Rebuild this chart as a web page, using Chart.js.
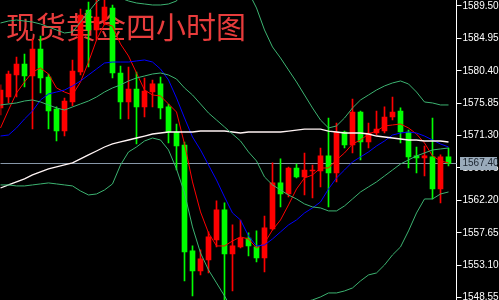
<!DOCTYPE html>
<html>
<head>
<meta charset="utf-8">
<script src="https://cdn.jsdelivr.net/npm/chart.js@4.4.1/dist/chart.umd.min.js"></script>
<style>
html, body { margin: 0; padding: 0; background: #000; }
canvas { display: block; }
</style>
</head>
<body>
<canvas id="myChart" width="499" height="300"></canvas>
<script>
const title = '现货黄金四小时图';
const lastPrice = 1567.40;
const yTicks = [1548.55, 1553.10, 1557.65, 1562.20, 1566.75, 1571.30, 1575.85, 1580.40, 1584.95, 1589.50];

// 4 hour candles, oldest first
const opens = [1575.18, 1576.72, 1579.81, 1581.35, 1579.67, 1583.46, 1579.53, 1575.03, 1571.94, 1576.02,
    1580.23, 1588.94, 1586.13, 1587.53, 1589.22, 1580.09, 1576.02, 1577.84, 1575.32, 1577.42,
    1578.55, 1575.32, 1571.80, 1569.98, 1555.10, 1552.29, 1553.84, 1556.64, 1560.86, 1554.68,
    1555.66, 1556.92, 1555.66, 1554.12, 1558.19, 1564.65, 1563.10, 1566.75, 1565.49, 1566.33,
    1566.33, 1568.44, 1566.05, 1571.80, 1569.98, 1574.61, 1570.40, 1571.66, 1571.94, 1573.91,
    1574.75, 1571.80, 1568.44, 1568.16, 1568.30, 1563.80, 1568.30];
const highs = [1578.41, 1580.37, 1582.34, 1582.76, 1584.86, 1585.29, 1579.95, 1575.32, 1576.58, 1581.92,
    1589.08, 1590.06, 1590.62, 1590.62, 1589.64, 1581.07, 1580.93, 1580.23, 1579.39, 1579.11,
    1579.53, 1575.74, 1572.93, 1570.40, 1555.80, 1555.24, 1557.77, 1562.12, 1561.84, 1558.75,
    1559.45, 1557.63, 1557.91, 1560.01, 1567.46, 1568.02, 1566.89, 1567.31, 1568.86, 1567.17,
    1569.56, 1573.77, 1573.07, 1571.94, 1576.44, 1574.75, 1573.07, 1574.75, 1575.32, 1576.72,
    1575.18, 1572.08, 1569.70, 1569.84, 1573.77, 1568.58, 1569.56];
const lows = [1574.19, 1575.88, 1576.72, 1578.13, 1572.22, 1577.28, 1572.22, 1570.54, 1571.24, 1575.46,
    1579.81, 1580.93, 1584.72, 1586.83, 1579.39, 1573.63, 1573.63, 1570.12, 1573.91, 1575.32,
    1573.63, 1570.26, 1566.47, 1550.89, 1548.78, 1551.73, 1552.01, 1555.66, 1548.10, 1549.48,
    1555.52, 1554.40, 1553.56, 1552.15, 1558.05, 1561.28, 1562.68, 1565.35, 1562.96, 1562.54,
    1564.09, 1561.28, 1564.79, 1569.56, 1568.86, 1567.88, 1569.56, 1571.38, 1571.66, 1573.49,
    1570.26, 1566.75, 1566.05, 1565.63, 1562.40, 1561.84, 1567.03];
const closes = [1577.70, 1579.95, 1581.35, 1579.67, 1583.46, 1579.39, 1574.75, 1571.94, 1576.16, 1580.37,
    1588.23, 1586.13, 1587.95, 1589.36, 1580.09, 1576.02, 1577.84, 1575.32, 1577.56, 1578.55,
    1575.18, 1571.80, 1569.84, 1554.96, 1552.29, 1553.98, 1557.07, 1560.86, 1554.68, 1555.80,
    1556.92, 1555.80, 1554.12, 1558.33, 1564.65, 1563.10, 1566.75, 1565.49, 1566.47, 1566.47,
    1568.44, 1566.05, 1571.80, 1569.98, 1574.61, 1570.40, 1571.66, 1572.22, 1573.91, 1574.61,
    1571.80, 1568.30, 1568.16, 1568.44, 1563.80, 1568.30, 1567.40];

// indicator lines
const ma5 = [1572.37, 1574.89, 1577.28, 1578.83, 1580.23, 1580.79, 1579.95, 1577.99, 1577.42, 1577.00,
    1578.83, 1581.63, 1584.72, 1586.97, 1586.69, 1584.16, 1582.48, 1580.09, 1577.70, 1577.00,
    1576.86, 1575.74, 1574.61, 1570.12, 1564.79, 1560.58, 1557.63, 1555.80, 1555.80, 1556.50,
    1557.07, 1556.78, 1555.52, 1556.22, 1558.05, 1559.45, 1561.56, 1563.80, 1565.35, 1565.77,
    1566.75, 1566.75, 1567.88, 1568.86, 1570.12, 1570.68, 1571.52, 1571.94, 1572.65, 1572.79,
    1572.93, 1572.37, 1571.52, 1570.26, 1568.44, 1567.74, 1567.46];
const ma10 = [1571.24, 1571.38, 1572.37, 1573.63, 1574.75, 1576.30, 1577.14, 1577.42, 1577.70, 1578.27,
    1578.97, 1579.81, 1580.65, 1581.49, 1581.63, 1581.63, 1581.63, 1581.78, 1581.92, 1581.63,
    1580.65, 1579.11, 1576.58, 1573.77, 1571.10, 1569.28, 1567.17, 1565.06, 1562.68, 1560.43,
    1559.45, 1557.21, 1555.80, 1555.94, 1556.78, 1557.77, 1558.75, 1559.45, 1560.43, 1561.14,
    1561.98, 1563.80, 1565.35, 1566.47, 1567.60, 1568.30, 1569.00, 1569.84, 1570.54, 1571.38,
    1571.66, 1571.80, 1571.66, 1571.24, 1570.68, 1570.12, 1569.70];
const ma60 = [1563.94, 1564.37, 1564.79, 1565.21, 1565.77, 1566.19, 1566.61, 1566.89, 1567.17, 1567.46,
    1568.02, 1568.58, 1569.14, 1569.70, 1570.12, 1570.40, 1570.68, 1570.96, 1571.24, 1571.52,
    1571.66, 1571.80, 1571.80, 1571.80, 1571.80, 1571.94, 1571.94, 1571.94, 1571.94, 1571.80,
    1571.66, 1571.80, 1571.80, 1571.80, 1571.80, 1571.80, 1571.94, 1572.08, 1572.22, 1572.22,
    1572.22, 1571.94, 1571.80, 1571.66, 1571.66, 1571.66, 1571.52, 1571.24, 1571.10, 1570.96,
    1570.82, 1570.68, 1570.68, 1570.54, 1570.54, 1570.54, 1570.40];
const bollUpper = [1587.11, 1587.39, 1587.53, 1587.39, 1587.25, 1586.97, 1586.55, 1586.13, 1585.71, 1585.85,
    1587.25, 1588.66, 1590.06, 1590.90, 1590.90, 1590.62, 1590.20, 1589.92, 1589.78, 1589.64,
    1589.64, 1589.78, 1590.20, 1592.45, 1595.68, 1596.66, 1596.80, 1596.94, 1596.80, 1596.24,
    1594.55, 1591.46, 1589.22, 1586.13, 1583.74, 1582.20, 1580.51, 1578.83, 1577.00, 1575.18,
    1573.49, 1572.37, 1572.65, 1573.77, 1575.18, 1576.30, 1577.00, 1577.70, 1578.27, 1578.69,
    1578.97, 1578.55, 1577.42, 1576.02, 1575.88, 1575.60, 1575.60];
const bollMid = [1575.60, 1575.74, 1575.88, 1576.16, 1576.30, 1576.02, 1575.60, 1575.18, 1574.89, 1575.32,
    1575.74, 1576.16, 1576.72, 1577.42, 1577.99, 1578.41, 1578.97, 1579.39, 1579.67, 1579.95,
    1580.09, 1579.81, 1579.25, 1577.99, 1577.00, 1575.74, 1574.47, 1573.49, 1572.51, 1571.52,
    1570.54, 1569.00, 1567.74, 1565.49, 1564.37, 1563.66, 1562.96, 1562.40, 1561.70, 1561.28,
    1561.14, 1560.72, 1560.72, 1561.42, 1562.40, 1563.38, 1564.09, 1564.79, 1565.63, 1566.47,
    1567.31, 1567.88, 1568.44, 1568.86, 1569.28, 1569.42, 1569.56];
const bollLower = [1564.37, 1564.37, 1564.23, 1564.23, 1564.37, 1564.51, 1564.65, 1564.51, 1564.37, 1564.23,
    1563.52, 1562.96, 1563.10, 1563.66, 1564.51, 1567.17, 1569.00, 1569.70, 1570.54, 1570.96,
    1570.68, 1569.28, 1566.61, 1563.24, 1558.47, 1554.82, 1552.43, 1550.61, 1548.78, 1546.82,
    1545.69, 1545.13, 1545.13, 1545.69, 1546.54, 1547.10, 1547.52, 1547.66, 1547.94, 1548.22,
    1548.64, 1549.20, 1549.20, 1549.48, 1549.90, 1550.89, 1551.73, 1552.01, 1553.13, 1554.54,
    1555.66, 1557.91, 1560.43, 1562.40, 1562.40, 1563.10, 1563.38];

// one spare slot on the right so the last candle sits just left of the axis
const labels = Array.from({length: closes.length + 1}, (_, i) => String(i + 1));

const upColor = '#ff0000';
const downColor = '#00ff00';
const candleColors = closes.map((c, i) => c >= opens[i] ? upColor : downColor);

function lineSet(data, color, width){
    return {
        type: 'line',
        data: data,
        borderColor: color,
        borderWidth: width,
        pointRadius: 0,
        tension: 0,
        fill: false,
        order: 1
    };
}

// title, last price line and price tag
const overlay = {
    id: 'overlay',
    beforeDatasetsDraw(chart){
        const ctx = chart.ctx;
        const area = chart.chartArea;
        const y = Math.round(chart.scales.y.getPixelForValue(lastPrice)) + 0.5;
        ctx.save();
        ctx.font = '30px "Noto Sans CJK SC"';
        ctx.fillStyle = '#e83c3c';
        ctx.textBaseline = 'alphabetic';
        ctx.fillText(title, 6, 38);
        ctx.strokeStyle = '#8797a8';
        ctx.lineWidth = 1;
        ctx.beginPath();
        ctx.moveTo(area.left, y);
        ctx.lineTo(area.right, y);
        ctx.stroke();
        ctx.restore();
    },
    afterDraw(chart){
        const ctx = chart.ctx;
        const y = Math.round(chart.scales.y.getPixelForValue(lastPrice));
        ctx.save();
        ctx.fillStyle = '#9aabbb';
        ctx.fillRect(460, y - 6, 37, 13);
        ctx.fillStyle = '#1c2530';
        ctx.font = '10px "Liberation Sans"';
        ctx.textBaseline = 'middle';
        ctx.fillText(lastPrice.toFixed(2), 462.5, y + 0.5);
        ctx.restore();
    }
};

function chart(){
    const ctx = document.getElementById('myChart').getContext('2d');

    const data = {
        labels: labels,
        datasets: [
            lineSet(bollUpper, '#3cb371', 1),
            lineSet(bollMid, '#3cb371', 1),
            lineSet(bollLower, '#3cb371', 1),
            lineSet(ma60, '#fff4f4', 1.3),
            lineSet(ma10, '#0000ff', 1),
            lineSet(ma5, '#ff0000', 1),
            {
                type: 'bar',
                data: lows.map((l, i) => [l, highs[i]]),
                backgroundColor: candleColors,
                borderWidth: 0,
                barThickness: 1,
                grouped: false,
                order: 3
            },
            {
                type: 'bar',
                data: opens.map((o, i) => [o, closes[i]]),
                backgroundColor: candleColors,
                borderWidth: 0,
                barThickness: 5,
                minBarLength: 1,
                grouped: false,
                order: 2
            }
        ]
    };

    const config = {
        type: 'bar',
        data: data,
        plugins: [overlay],
        options: {
            responsive: false,
            animation: false,
            devicePixelRatio: 1,
            layout: { padding: { left: 0.5, right: 0, top: 0, bottom: 0 } },
            plugins: {
                legend: { display: false },
                tooltip: { enabled: false }
            },
            scales: {
                x: {
                    type: 'category',
                    offset: false,
                    display: false
                },
                y: {
                    position: 'right',
                    min: 1548.21,
                    max: 1590.34,
                    afterBuildTicks: (scale) => {
                        scale.ticks = yTicks.map(v => ({ value: v }));
                    },
                    afterFit: (scale) => {
                        scale.width = 42.5;
                        scale.paddingTop = 0;
                        scale.paddingBottom = 0;
                    },
                    ticks: {
                        color: '#ffffff',
                        padding: 1,
                        font: { family: 'Liberation Sans', size: 10 },
                        callback: (v) => Number(v).toFixed(2)
                    },
                    grid: {
                        drawOnChartArea: false,
                        color: '#ffffff',
                        tickLength: 5
                    },
                    border: { color: '#ffffff', width: 1 }
                }
            }
        }
    };

    return new Chart(ctx, config);
}

chart();
</script>
</body>
</html>
